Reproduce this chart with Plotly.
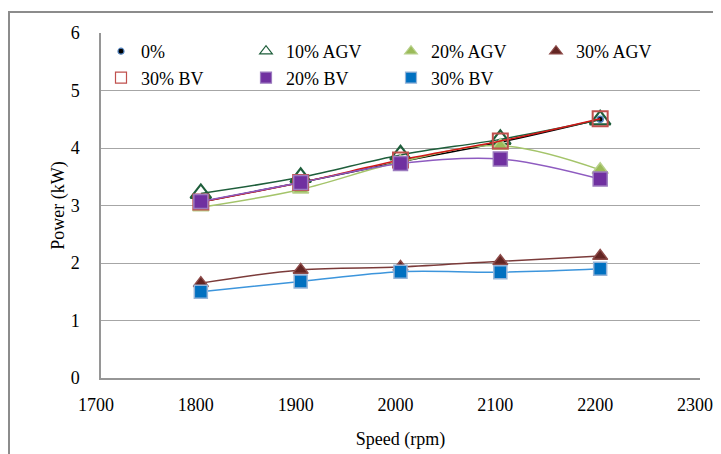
import plotly.graph_objects as go

speed = [1800, 1900, 2000, 2100, 2200]

p_0 = [3.06, 3.40, 3.76, 4.10, 4.50]
p_10_agv = [3.21, 3.49, 3.88, 4.15, 4.49]
p_20_agv = [2.97, 3.28, 3.76, 4.04, 3.62]
p_30_agv = [1.65, 1.88, 1.93, 2.03, 2.12]
p_30_bv_open = [3.06, 3.40, 3.79, 4.12, 4.51]
p_20_bv = [3.07, 3.40, 3.73, 3.81, 3.46]
p_30_bv = [1.50, 1.68, 1.85, 1.84, 1.90]

series = [
    # name, values, line colour, symbol, marker colour, marker edge, size, edge width
    ('0%', p_0, '#000000', 'circle', '#000000', '#4F81BD', 6, 1.5),
    ('10% AGV', p_10_agv, '#1E5E3B', 'triangle-up-open', '#1E5E3B', '#1E5E3B', 18, 2.2),
    ('20% AGV', p_20_agv, '#A4C46A', 'triangle-up', '#9BBB59', '#B7D08A', 14, 1.5),
    ('30% AGV', p_30_agv, '#7B3B3A', 'triangle-up', '#632523', '#8C4A48', 13, 1.5),
    ('30% BV', p_30_bv_open, '#D01818', 'square-open', '#C0504D', '#C0504D', 15, 2),
    ('20% BV', p_20_bv, '#8E5BC0', 'square', '#7030A0', '#9C7BBF', 14, 1.5),
    ('30% BV', p_30_bv, '#3C95DC', 'square', '#0070C0', '#95B3D7', 13, 1.5),
]

serif = 'Times New Roman, Liberation Serif, serif'

fig = go.Figure()
for name, vals, lc, sym, mc, mlc, size, lw in series:
    fig.add_trace(go.Scatter(
        x=speed, y=vals, mode='lines+markers', name=name, showlegend=False,
        line=dict(color=lc, width=1.5, shape='spline', smoothing=1),
        marker=dict(symbol=sym, size=size, color=mc, line=dict(color=mlc, width=lw)),
    ))
    # legend-only entry so the legend shows just the marker
    fig.add_trace(go.Scatter(
        x=[None], y=[None], mode='markers', name=name,
        marker=dict(symbol=sym, size=6 if size < 8 else 11, color=mc,
                    line=dict(color=mlc, width=1.2)),
    ))

# page body has an 8px margin, so the figure is shrunk by 8px and shifted
fig.update_layout(
    width=713, height=446,
    margin=dict(l=93, r=21, t=25, b=76, autoexpand=False),
    paper_bgcolor='white', plot_bgcolor='white',
    font=dict(family=serif, size=18, color='#000000'),
    legend=dict(
        orientation='h', x=0.0, y=1.0, xanchor='left', yanchor='top',
        entrywidth=100, entrywidthmode='pixels', itemwidth=30,
        bgcolor='rgba(0,0,0,0)', font=dict(family=serif, size=18),
        tracegroupgap=0,
    ),
    xaxis=dict(
        range=[1700, 2300], dtick=100, showgrid=False,
        showline=True, linecolor='#969696', linewidth=1.5,
        ticks='', ticklabelstandoff=10, ticklabelshift=-5,
        title=dict(text='Speed (rpm)', standoff=18, font=dict(size=18)),
        zeroline=False,
    ),
    yaxis=dict(
        range=[0, 6], dtick=1, showgrid=True, gridcolor='#A6A6A6', gridwidth=1.2,
        showline=True, linecolor='#969696', linewidth=1.5,
        ticks='', ticklabelstandoff=16,
        title=dict(text='Power (kW)', standoff=1, font=dict(size=18)),
        zeroline=False,
    ),
    shapes=[dict(
        type='rect', xref='paper', yref='paper',
        x0=-0.1536, x1=1.2, y0=-0.4, y1=1.061,
        line=dict(color='#8C8C8C', width=2), layer='below',
    )],
)

fig.write_html('out.html')
